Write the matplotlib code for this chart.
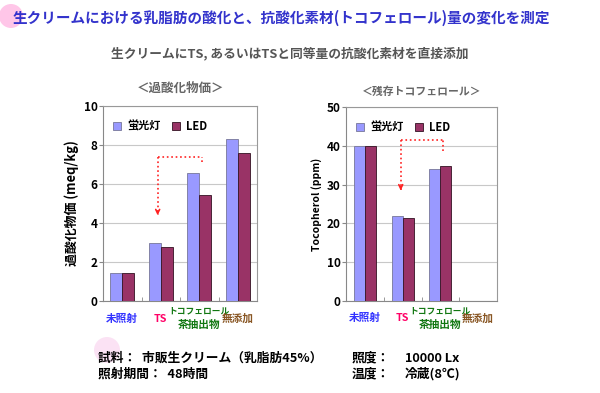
import matplotlib
matplotlib.use("Agg")
import matplotlib.pyplot as plt
from matplotlib.patches import Circle
import numpy as np

plt.rcParams['font.family'] = ['Noto Sans CJK JP', 'DejaVu Sans']

categories = ['未照射', 'TS', 'トコフェロール\n茶抽出物', '無添加']
cat_colors = ['#3333ff', '#ff0066', '#117711', '#885522']
series = ['蛍光灯', 'LED']
pov_fluor = [1.45, 3.0, 6.55, 8.3]
pov_led = [1.45, 2.75, 5.45, 7.6]
toco_fluor = [40, 22, 34, 0]
toco_led = [40, 21.5, 34.7, 0]

c_fl = '#9999ff'
c_led = '#993366'
grid_c = '#c8c8c8'

fig = plt.figure(figsize=(6, 3.93), dpi=100)

# header decorations (positions in inches so circles stay round)
fig.patches.append(Circle((0.11, 3.93 - 0.16), 0.12, transform=fig.dpi_scale_trans,
                          facecolor='#ffc6e8', edgecolor='none', zorder=0))
fig.patches.append(Circle((1.07, 3.93 - 3.50), 0.13, transform=fig.dpi_scale_trans,
                          facecolor='#fbe2f4', edgecolor='none', zorder=0))
fig.text(13 / 600, 1 - 18 / 393, '生クリームにおける乳脂肪の酸化と、抗酸化素材(トコフェロール)量の変化を測定',
         fontsize=10.5, fontweight='bold', color='#3333cc', va='center', ha='left')
fig.text(290 / 600, 1 - 53 / 393, '生クリームにTS, あるいはTSと同等量の抗酸化素材を直接添加',
         fontsize=9.2, fontweight='bold', color='#555555', va='center', ha='center')


def draw(ax, fl, led, ymax, ystep, ylabel, ylfs, title, tfs, tpad, width, arrow):
    x = np.arange(len(categories))
    ax.set_axisbelow(True)
    ax.bar(x - width / 2, fl, width, color=c_fl, edgecolor='#777799', linewidth=0.6, label=series[0], zorder=3)
    ax.bar(x + width / 2, led, width, color=c_led, edgecolor='#331122', linewidth=0.6, label=series[1], zorder=3)
    ax.set_xlim(-0.5, len(categories) - 0.5)
    ax.set_ylim(0, ymax)
    ax.set_yticks(np.arange(0, ymax + 0.01, ystep))
    ax.yaxis.grid(True, color=grid_c, linewidth=0.8)
    ax.tick_params(axis='y', labelsize=8.5, length=3, color='#888888', pad=1)
    for lab in ax.get_yticklabels():
        lab.set_fontweight('bold')
    ax.set_xticks(x)
    ax.set_xticklabels([])
    ax.tick_params(axis='x', length=0)
    ax.set_xticks(np.arange(0.5, len(categories) - 0.5, 1), minor=True)
    ax.tick_params(axis='x', which='minor', direction='in', length=3, color='#888888')
    for s in ax.spines.values():
        s.set_color('#999999')
        s.set_linewidth(0.8)
    ax.spines['left'].set_color('#888888')
    ax.spines['bottom'].set_color('#888888')
    for i, (cat, col) in enumerate(zip(categories, cat_colors)):
        if '\n' in cat:
            a, b = cat.split('\n')
            ax.text(i, -0.052, a, transform=ax.get_xaxis_transform(), ha='center', va='center',
                    fontsize=6.3, fontweight='bold', color=col)
            ax.text(i, -0.125, b, transform=ax.get_xaxis_transform(), ha='center', va='center',
                    fontsize=7.7, fontweight='bold', color=col)
        else:
            ax.text(i, -0.09, cat, transform=ax.get_xaxis_transform(), ha='center', va='center',
                    fontsize=7.7, fontweight='bold', color=col)
    ax.set_ylabel(ylabel, fontsize=ylfs, fontweight='bold', labelpad=3)
    ax.set_title(title, fontsize=tfs, fontweight='bold', color='#666666', pad=tpad)
    ax.legend(loc='upper left', ncol=2, frameon=False, handlelength=0.7,
              handleheight=0.7, handletextpad=0.6, columnspacing=1.0,
              bbox_to_anchor=(0.0, 0.98), prop={'weight': 'bold', 'size': 8})
    # red dotted arrow
    x0, x1, yh, yend, ytip = arrow
    ax.plot([x1, x1], [yend, yh], ls=':', color='#ff2222', lw=1.2, zorder=4)
    ax.plot([x0, x1], [yh, yh], ls=':', color='#ff2222', lw=1.2, zorder=4)
    ax.plot([x0, x0], [yh, ytip], ls=':', color='#ff2222', lw=1.2, zorder=4)
    ax.annotate('', xy=(x0, ytip), xytext=(x0, ytip + ymax * 0.02),
                arrowprops=dict(arrowstyle='->', color='#ff2222', lw=1.2,
                                mutation_scale=7, shrinkA=0, shrinkB=0), zorder=4)


ax1 = fig.add_axes([103 / 600, 1 - 301 / 393, 154 / 600, 195 / 393])
draw(ax1, pov_fluor, pov_led, 10, 2, '過酸化物価 (meq/kg)', 9.3, '＜過酸化物価＞', 9.0, 10, 0.31,
     (0.92, 2.08, 7.4, 7.15, 4.4))
ax2 = fig.add_axes([346 / 600, 1 - 301 / 393, 151 / 600, 194 / 393])
draw(ax2, toco_fluor, toco_led, 50, 10, 'Tocopherol (ppm)', 7.5, '＜残存トコフェロール＞', 7.8, 9, 0.29,
     (0.95, 2.08, 41.5, 38.7, 28.5))

# bottom info
fs = 9.2
fig.text(98 / 600, 1 - 358 / 393, '試料：  市販生クリーム（乳脂肪45%）', fontsize=fs, fontweight='bold', va='center')
fig.text(98 / 600, 1 - 374 / 393, '照射期間：  48時間', fontsize=fs, fontweight='bold', va='center')
fig.text(352 / 600, 1 - 358 / 393, '照度：', fontsize=fs, fontweight='bold', va='center')
fig.text(405 / 600, 1 - 358 / 393, '10000 Lx', fontsize=fs, fontweight='bold', va='center')
fig.text(352 / 600, 1 - 374 / 393, '温度：', fontsize=fs, fontweight='bold', va='center')
fig.text(405 / 600, 1 - 374 / 393, '冷蔵(8℃)', fontsize=fs, fontweight='bold', va='center')

fig.savefig('out.png', dpi=100)
